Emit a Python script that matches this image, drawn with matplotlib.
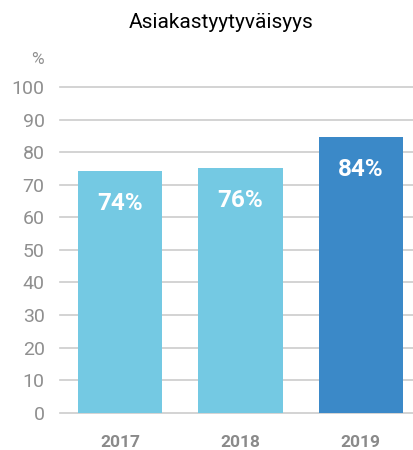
import matplotlib
matplotlib.use("Agg")
import matplotlib.pyplot as plt

years = ["2017", "2018", "2019"]
bar_values = [74.2, 75.1, 84.6]
value_labels = ["74%", "76%", "84%"]
bar_colors = ["#74c9e3", "#74c9e3", "#3b89c8"]
y_ticks = [0, 10, 20, 30, 40, 50, 60, 70, 80, 90, 100]
title = "Asiakastyytyväisyys"

plt.rcParams['font.family'] = ['Roboto', 'DejaVu Sans']

fig = plt.figure(figsize=(4.14, 4.5), dpi=100)
ax = fig.add_axes([60/414, 1-412.7/450, 361/414, (412.7-87)/450])

x = list(range(len(years)))
ax.bar(x, bar_values, width=0.70, color=bar_colors, zorder=2)
for xi, v, lab in zip(x, bar_values, value_labels):
    ax.text(xi, v - 10, lab, ha="center", va="center", color="white",
            fontsize=17.5, fontweight="bold", zorder=3)

ax.set_xlim(-0.5, 2.5)
ax.set_ylim(0, 100)
ax.set_yticks(y_ticks)
ax.set_yticklabels([str(t) for t in y_ticks], color="#8f8f8f", fontsize=14,
                   fontweight="normal")
ax.set_xticks(x)
ax.set_xticklabels(years, color="#8a8a8a", fontsize=12.5, fontweight="bold")
ax.tick_params(axis="y", length=0, pad=11)
ax.tick_params(axis="x", length=0, pad=16)
for s in ax.spines.values():
    s.set_visible(False)
for t in y_ticks:
    ax.axhline(t, color="#cccccc", lw=1.2, zorder=1, clip_on=False)

fig.text(221/414, 1-22/450, title, ha="center", va="center", fontsize=15,
         fontweight="normal", color="black")
fig.text(44/414, 1-59/450, "%", ha="right", va="center", fontsize=12.5,
         fontweight="normal", color="#8f8f8f")

fig.savefig("out.png", dpi=100)
